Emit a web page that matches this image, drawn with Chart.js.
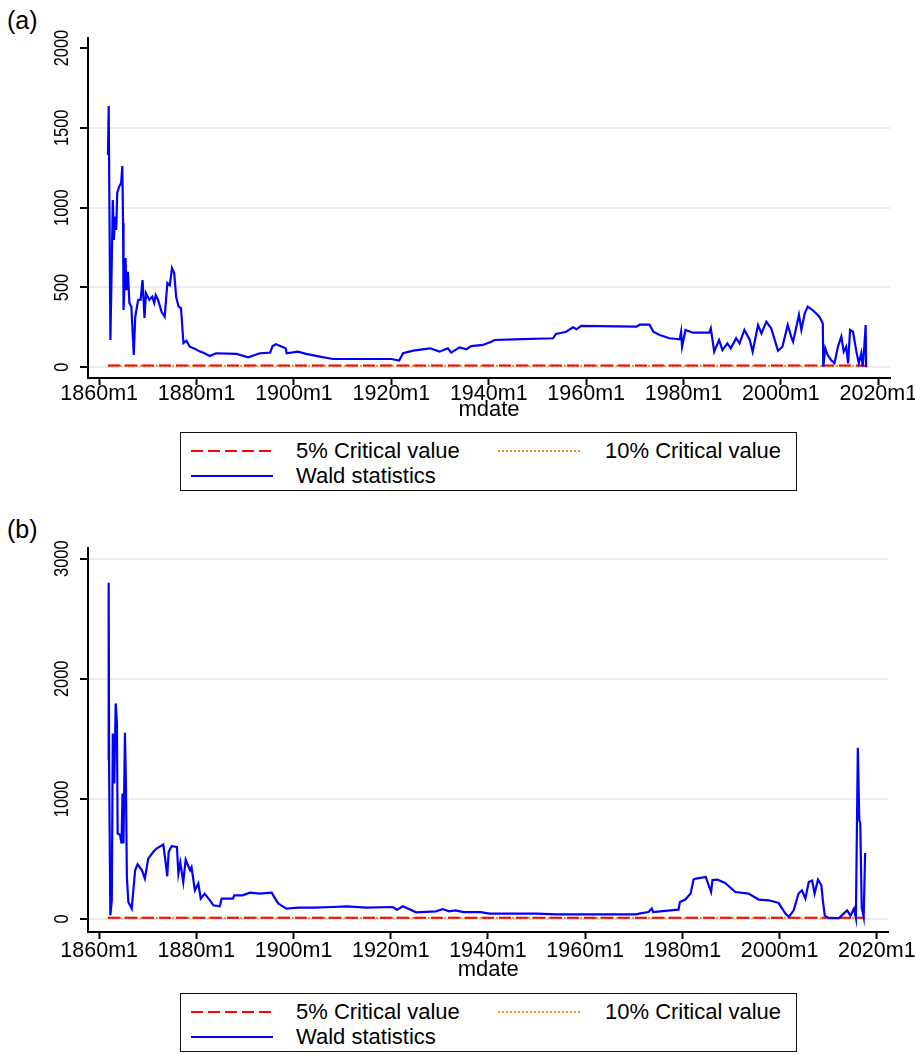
<!DOCTYPE html>
<html>
<head>
<meta charset="utf-8">
<script src="https://cdn.jsdelivr.net/npm/chart.js@4.4.0/dist/chart.umd.min.js"></script>
<style>
    html, body { margin: 0; padding: 0; background: #fff; }
    body { width: 915px; height: 1054px; position: relative; overflow: hidden; font-family: "Liberation Sans", Arial, sans-serif; color: #000; }
    .panel-label { position: absolute; left: 7px; font-size: 25px; line-height: 28px; }
    canvas { position: absolute; left: 0; }
    .legend-box { position: absolute; left: 180px; width: 617px; height: 59px; border: 1.5px solid #111; box-sizing: border-box; }
    .legend-text { position: absolute; font-size: 22px; line-height: 24px; white-space: nowrap; }
    .legend-line { position: absolute; }
</style>
</head>
<body>
<div class="panel-label" style="top:6px">(a)</div>
<canvas id="chartA" width="915" height="426" style="top:0"></canvas>
<div id="legendA"></div>

<div class="panel-label" style="top:515px">(b)</div>
<canvas id="chartB" width="915" height="476" style="top:510px"></canvas>
<div id="legendB"></div>

<script>
// panel (a): Wald statistics by month (decimal years)
const yearsA = [
    1861.8, 1861.95, 1862.3, 1862.8, 1863.0, 1863.3, 1863.5, 1863.7, 1864.1, 1864.5,
    1864.75, 1864.9, 1865.0, 1865.4, 1865.6, 1865.9, 1866.2, 1866.6, 1867.1, 1867.4,
    1868.0, 1868.5, 1868.9, 1869.3, 1869.6, 1870.3, 1870.9, 1871.3, 1871.6, 1872.1,
    1872.8, 1873.45, 1874.0, 1874.5, 1874.95, 1875.4, 1875.8, 1876.3, 1876.8, 1877.3,
    1877.9, 1878.6, 1879.6, 1880.6, 1881.5, 1882.7, 1884.0, 1888.2, 1890.6, 1893.0,
    1895.1, 1895.6, 1896.3, 1897.4, 1898.3, 1898.5, 1900.8, 1902.5, 1905.3, 1908.0,
    1915.0, 1920.0, 1921.6, 1922.4, 1924.5, 1927.9, 1929.9, 1931.6, 1932.3, 1934.0,
    1935.4, 1936.4, 1938.8, 1940.5, 1941.2, 1945.3, 1953.2, 1953.8, 1955.9, 1957.3,
    1958.0, 1959.0, 1970.3, 1971.0, 1973.0, 1973.8, 1975.1, 1977.1, 1979.2, 1979.5,
    1979.7, 1980.4, 1981.9, 1985.3, 1985.6, 1986.3, 1987.3, 1988.0, 1989.0, 1989.7,
    1990.8, 1991.5, 1992.5, 1993.6, 1994.2, 1995.3, 1996.0, 1997.0, 1998.0, 1999.4,
    2000.3, 2001.4, 2002.1, 2002.5, 2003.7, 2004.2, 2004.9, 2005.5, 2006.5, 2007.9,
    2008.6, 2008.7, 2009.1, 2009.6, 2010.3, 2011.0, 2011.7, 2012.4, 2012.9, 2013.4,
    2013.8, 2014.2, 2014.8, 2015.5, 2016.0, 2016.5, 2016.8, 2017.1, 2017.4, 2017.5
];
const waldA = [
    1330, 1637, 171, 1048, 798, 944, 860, 1092, 1132, 1154,
    1261, 904, 359, 685, 484, 599, 403, 380, 77, 317,
    422, 422, 547, 309, 465, 422, 442, 403, 452, 422,
    348, 317, 528, 515, 622, 591, 442, 380, 370, 152,
    167, 129, 117, 100, 89, 71, 88, 84, 63, 88,
    92, 133, 144, 130, 119, 88, 98, 84, 67, 52,
    52, 52, 42, 88, 104, 119, 98, 119, 92, 125,
    113, 133, 140, 160, 171, 175, 182, 209, 223, 251,
    238, 259, 255, 267, 267, 223, 202, 182, 175, 223,
    129, 234, 217, 217, 244, 98, 171, 108, 150, 119,
    182, 150, 234, 171, 98, 265, 213, 286, 244, 104,
    129, 265, 192, 160, 328, 234, 338, 380, 359, 317,
    275, 4, 119, 77, 46, 25, 129, 192, 98, 129,
    25, 234, 223, 98, 25, 88, 4, 119, 265, 0
];

// panel (b)
const yearsB = [
    1861.9, 1861.95, 1862.05, 1862.3, 1862.6, 1862.8, 1863.1, 1863.4, 1863.65, 1863.8,
    1864.3, 1864.6, 1864.8, 1865.0, 1865.3, 1865.5, 1865.7, 1866.0, 1866.7, 1867.4,
    1867.9, 1868.8, 1869.4, 1870.1, 1871.1, 1871.8, 1873.2, 1873.7, 1874.0, 1874.3,
    1874.9, 1876.0, 1876.3, 1876.7, 1877.3, 1877.8, 1878.7, 1879.0, 1879.7, 1880.4,
    1880.9, 1881.7, 1882.8, 1883.5, 1884.8, 1885.2, 1887.5, 1887.8, 1889.5, 1891.0,
    1893.0, 1895.5, 1896.2, 1896.9, 1898.5, 1901.0, 1904.0, 1908.0, 1910.9, 1915.0,
    1920.4, 1921.3, 1922.5, 1923.5, 1925.2, 1929.3, 1930.7, 1932.0, 1933.3, 1935.0,
    1938.5, 1940.3, 1950.0, 1954.0, 1970.4, 1971.1, 1973.0, 1973.7, 1974.0, 1977.5,
    1979.2, 1979.5, 1980.6, 1981.7, 1982.3, 1982.8, 1984.8, 1985.9, 1986.2, 1987.2,
    1988.8, 1990.9, 1993.6, 1995.7, 1997.8, 1999.8, 2001.2, 2001.9, 2002.9, 2003.9,
    2004.6, 2005.3, 2006.0, 2006.7, 2007.2, 2007.9, 2008.6, 2008.9, 2009.3, 2010.1,
    2012.2, 2013.9, 2014.6, 2015.3, 2015.7, 2016.1, 2016.4, 2016.6, 2016.9, 2017.3,
    2017.6
];
const waldB = [
    1322, 2800, 1225, 31, 156, 1545, 1128, 1795, 1628, 712,
    700, 628, 1045, 628, 1550, 1128, 350, 142, 87, 406,
    456, 406, 337, 503, 558, 587, 620, 462, 356, 558,
    606, 600, 378, 470, 308, 495, 406, 431, 239, 295,
    170, 211, 156, 114, 106, 170, 170, 197, 197, 220,
    211, 220, 170, 128, 87, 95, 95, 100, 106, 95,
    100, 78, 106, 87, 56, 64, 83, 64, 72, 58,
    58, 45, 45, 39, 39, 45, 58, 87, 58, 72,
    78, 142, 162, 212, 328, 337, 350, 225, 325, 328,
    300, 225, 212, 162, 156, 133, 45, 17, 72, 212,
    239, 170, 308, 320, 212, 328, 281, 156, 28, 8,
    8, 72, 28, 87, 8, 1425, 822, 800, 97, 17,
    550
];

// critical values (flat lines over the sample)
const critSpan = [1861.8, 2017.5];
const crit5 = 11.1;
const crit10 = 9.2;

const xTickYears = [1860, 1880, 1900, 1920, 1940, 1960, 1980, 2000, 2020];
const yTicksA = [0, 500, 1000, 1500, 2000];
const yTicksB = [0, 1000, 2000, 3000];

const FONT = '"Liberation Sans", Arial, sans-serif';

const rotatedYLabels = {
    id: 'rotatedYLabels',
    afterDraw(chart) {
        const scale = chart.scales.y;
        const ctx = chart.ctx;
        ctx.save();
        ctx.fillStyle = '#000';
        ctx.font = `21px ${FONT}`;
        ctx.textAlign = 'center';
        ctx.textBaseline = 'middle';
        scale.ticks.forEach(tick => {
            ctx.save();
            ctx.translate(62, scale.getPixelForValue(tick.value));
            ctx.rotate(-Math.PI / 2);
            ctx.scale(0.78, 1);
            ctx.fillText(String(tick.value), 0, 0);
            ctx.restore();
        });
        ctx.restore();
    }
};

function buildPanel(id, years, values, yTicks, yMin, yMax, xAxisHeight, labelPad, hiddenGrid) {
    const wald = years.map((x, i) => ({ x, y: values[i] }));
    const line5 = critSpan.map(x => ({ x, y: crit5 }));
    const line10 = critSpan.map(x => ({ x, y: crit10 }));

    new Chart(document.getElementById(id), {
        type: 'line',
        data: {
            datasets: [
                { label: 'Wald statistics', data: wald, borderColor: '#0000ff', borderWidth: 2.2, pointRadius: 0, tension: 0, order: 0 },
                { label: '5% Critical value', data: line5, borderColor: '#ff0000', borderDash: [12, 5], borderWidth: 2, pointRadius: 0, order: 1 },
                { label: '10% Critical value', data: line10, borderColor: '#ff8c1a', borderDash: [2, 2], borderWidth: 2, pointRadius: 0, order: 2 }
            ]
        },
        options: {
            responsive: false,
            animation: false,
            layout: { padding: { top: 38, right: 25, left: 0, bottom: 0 } },
            plugins: { legend: { display: false }, tooltip: { enabled: false } },
            scales: {
                x: {
                    type: 'linear',
                    min: 1857.7,
                    max: 2022.4,
                    afterBuildTicks: scale => { scale.ticks = xTickYears.map(v => ({ value: v })); },
                    afterFit: scale => { scale.height = xAxisHeight; },
                    ticks: {
                        callback: v => `${v}m1`,
                        color: '#000',
                        font: { family: FONT, size: 21.5 },
                        maxRotation: 0,
                        autoSkip: false,
                        padding: labelPad
                    },
                    grid: { drawOnChartArea: false, color: '#000', tickLength: 7, tickColor: '#000', tickWidth: 2 },
                    border: { color: '#000', width: 2 },
                    title: { display: true, text: 'mdate', color: '#000', font: { family: FONT, size: 22 }, padding: { top: 4, bottom: 3 } }
                },
                y: {
                    min: yMin,
                    max: yMax,
                    afterBuildTicks: scale => { scale.ticks = yTicks.map(v => ({ value: v })); },
                    afterFit: scale => { scale.width = 88; },
                    ticks: { display: false },
                    grid: {
                        color: c => (c.tick && c.tick.value === hiddenGrid) ? 'rgba(0,0,0,0)' : '#e6eef1',
                        lineWidth: 2,
                        tickLength: 8,
                        tickColor: '#000',
                        tickWidth: 2
                    },
                    border: { color: '#000', width: 2 }
                }
            }
        },
        plugins: [rotatedYLabels]
    });
}

function buildLegend(holderId, top) {
    const holder = document.getElementById(holderId);
    const rows = [
        { label: '5% Critical value', color: '#ff0000', dash: '12,5', lineX: 191, textX: 296, y: top + 19 },
        { label: '10% Critical value', color: '#ff8c1a', dash: '2,2', lineX: 498, textX: 605, y: top + 19 },
        { label: 'Wald statistics', color: '#0000ff', dash: '', lineX: 191, textX: 296, y: top + 44 }
    ];
    let html = `<div class="legend-box" style="top:${top}px"></div>`;
    rows.forEach(r => {
        html += `<svg class="legend-line" width="82" height="4" style="left:${r.lineX}px;top:${r.y - 2}px">` +
            `<line x1="0" y1="2" x2="82" y2="2" stroke="${r.color}" stroke-width="2"` +
            (r.dash ? ` stroke-dasharray="${r.dash}"` : '') + `/></svg>`;
        html += `<div class="legend-text" style="left:${r.textX}px;top:${r.y - 12}px">${r.label}</div>`;
    });
    holder.innerHTML = html;
}

buildPanel('chartA', yearsA, waldA, yTicksA, -67, 2063, 48, -4, 2000);
buildPanel('chartB', yearsB, waldB, yTicksB, -108, 3089, 54, -1, null);
buildLegend('legendA', 432);
buildLegend('legendB', 993);
</script>
</body>
</html>
